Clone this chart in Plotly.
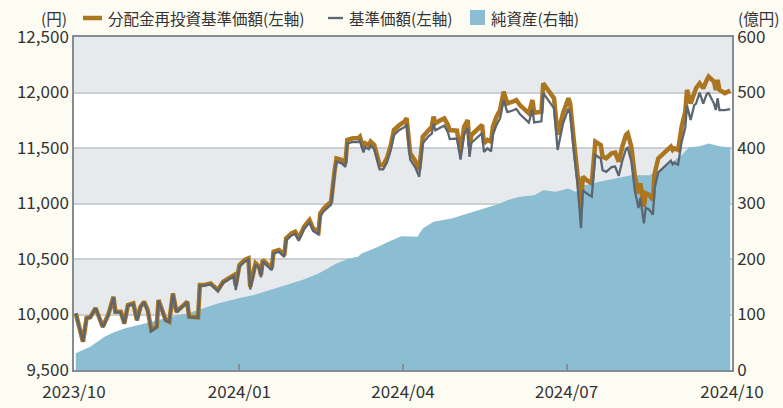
import plotly.graph_objects as go

# ---------------- data ----------------
nav_dates = [
    "2023-10-02", "2023-10-06", "2023-10-08", "2023-10-10", "2023-10-13", "2023-10-17", "2023-10-20",
    "2023-10-23", "2023-10-24", "2023-10-27", "2023-10-29", "2023-10-31", "2023-11-03", "2023-11-05",
    "2023-11-07", "2023-11-09", "2023-11-11", "2023-11-13", "2023-11-16", "2023-11-17", "2023-11-19",
    "2023-11-21", "2023-11-23", "2023-11-25", "2023-11-27", "2023-11-29", "2023-12-01", "2023-12-03",
    "2023-12-04", "2023-12-09", "2023-12-10", "2023-12-12", "2023-12-16", "2023-12-20", "2023-12-23",
    "2023-12-26", "2023-12-29", "2023-12-30", "2024-01-01", "2024-01-04", "2024-01-06", "2024-01-07",
    "2024-01-09", "2024-01-10", "2024-01-12", "2024-01-13", "2024-01-14", "2024-01-17", "2024-01-19",
    "2024-01-20", "2024-01-23", "2024-01-26", "2024-01-27", "2024-01-30", "2024-02-01", "2024-02-03",
    "2024-02-06", "2024-02-09", "2024-02-11", "2024-02-14", "2024-02-15", "2024-02-17", "2024-02-21",
    "2024-02-23", "2024-02-24", "2024-02-27", "2024-02-29", "2024-03-01", "2024-03-04", "2024-03-07",
    "2024-03-08", "2024-03-10", "2024-03-11", "2024-03-13", "2024-03-14", "2024-03-16", "2024-03-19",
    "2024-03-21", "2024-03-23", "2024-03-25", "2024-03-27", "2024-03-30", "2024-04-02", "2024-04-03",
    "2024-04-05", "2024-04-08", "2024-04-10", "2024-04-12", "2024-04-15", "2024-04-17", "2024-04-18",
    "2024-04-19", "2024-04-22", "2024-04-24", "2024-04-26", "2024-04-27", "2024-05-01", "2024-05-03",
    "2024-05-05", "2024-05-07", "2024-05-08", "2024-05-09", "2024-05-12", "2024-05-15", "2024-05-16",
    "2024-05-18", "2024-05-20", "2024-05-21", "2024-05-23", "2024-05-25", "2024-05-27", "2024-05-29",
    "2024-06-01", "2024-06-03", "2024-06-05", "2024-06-08", "2024-06-10", "2024-06-12", "2024-06-13",
    "2024-06-17", "2024-06-18", "2024-06-20", "2024-06-22", "2024-06-24", "2024-06-26", "2024-06-29",
    "2024-07-02", "2024-07-03", "2024-07-05", "2024-07-07", "2024-07-09", "2024-07-10", "2024-07-12",
    "2024-07-15", "2024-07-17", "2024-07-20", "2024-07-21", "2024-07-23", "2024-07-26", "2024-07-28",
    "2024-07-30", "2024-08-01", "2024-08-03", "2024-08-04", "2024-08-06", "2024-08-08", "2024-08-10",
    "2024-08-11", "2024-08-13", "2024-08-14", "2024-08-16", "2024-08-18", "2024-08-19", "2024-08-21",
    "2024-08-24", "2024-08-26", "2024-08-28", "2024-08-29", "2024-08-30", "2024-09-01", "2024-09-03",
    "2024-09-05", "2024-09-06", "2024-09-08", "2024-09-10", "2024-09-11", "2024-09-13", "2024-09-15",
    "2024-09-17", "2024-09-18", "2024-09-21", "2024-09-22", "2024-09-23", "2024-09-24", "2024-09-27",
    "2024-09-30",
]

reinvested_nav = [
    10010, 9755, 9969, 9975, 10058, 9890, 9995,
    10160, 10025, 10025, 9920, 10085, 10100, 9950,
    10070, 10115, 10040, 9860, 9890, 10130, 10040,
    9950, 9935, 10190, 10025, 10060, 10085, 10115,
    9980, 9975, 10265, 10265, 10280, 10220, 10295,
    10325, 10355, 10260, 10445, 10491, 10506, 10250,
    10401, 10461, 10431, 10356, 10491, 10446, 10416,
    10566, 10581, 10536, 10686, 10731, 10746, 10686,
    10791, 10851, 10776, 10746, 10912, 10957, 11016,
    11302, 11407, 11392, 11362, 11572, 11587, 11587,
    11602, 11497, 11542, 11527, 11557, 11527, 11347,
    11347, 11407, 11512, 11662, 11707, 11740, 11770,
    11452, 11377, 11302, 11602, 11662, 11692, 11782,
    11722, 11752, 11767, 11707, 11662, 11656, 11467,
    11692, 11752, 11512, 11617, 11662, 11707, 11542,
    11572, 11557, 11692, 11782, 11842, 12007, 11902,
    11917, 11932, 11887, 11842, 11812, 11932, 11818,
    11827, 12083, 12038, 11993, 11947, 11620, 11812,
    11948, 11902, 11572, 11302, 10972, 11242, 11212,
    11182, 11557, 11527, 11422, 11407, 11452, 11458,
    11377, 11512, 11617, 11632, 11512, 11242, 11092,
    11182, 10971, 11092, 11077, 11032, 11272, 11407,
    11452, 11482, 11512, 11482, 11497, 11482, 11692,
    11827, 12023, 11902, 12007, 12038, 12083, 12038,
    12113, 12143, 12098, 12023, 12113, 12023, 11993,
    12017,
]

base_nav = [
    10010, 9755, 9965, 9972, 10055, 9885, 9990,
    10155, 10020, 10020, 9915, 10080, 10095, 9945,
    10065, 10110, 10035, 9850, 9885, 10125, 10035,
    9945, 9930, 10185, 10020, 10055, 10080, 10110,
    9975, 9970, 10260, 10260, 10272, 10212, 10287,
    10317, 10345, 10220, 10432, 10478, 10493, 10225,
    10388, 10448, 10418, 10335, 10476, 10431, 10400,
    10550, 10564, 10518, 10668, 10712, 10726, 10664,
    10769, 10828, 10752, 10720, 10887, 10931, 10990,
    11274, 11378, 11362, 11330, 11540, 11554, 11553,
    11567, 11461, 11506, 11490, 11520, 11489, 11308,
    11307, 11366, 11470, 11619, 11663, 11690, 11715,
    11396, 11320, 11240, 11543, 11602, 11630, 11716,
    11660, 11688, 11702, 11641, 11580, 11585, 11395,
    11620, 11680, 11420, 11545, 11590, 11634, 11465,
    11497, 11470, 11618, 11708, 11766, 11930, 11823,
    11838, 11852, 11806, 11760, 11728, 11847, 11730,
    11740, 11995, 11950, 11905, 11857, 11482, 11720,
    11855, 11808, 11470, 11190, 10777, 11120, 11092,
    11062, 11437, 11405, 11300, 11285, 11328, 11333,
    11250, 11385, 11490, 11503, 11382, 11110, 10960,
    11050, 10822, 10960, 10944, 10900, 11140, 11280,
    11325, 11355, 11385, 11352, 11367, 11350, 11555,
    11685, 11880, 11752, 11887, 11900, 12000, 11900,
    11990, 11995, 11900, 11842, 11950, 11842, 11842,
    11850,
]

asset_dates = [
    "2023-10-02", "2023-10-10", "2023-10-14", "2023-10-18", "2023-10-22", "2023-10-29", "2023-11-06",
    "2023-11-13", "2023-11-24", "2023-12-03", "2023-12-12", "2023-12-20", "2023-12-31", "2024-01-09",
    "2024-01-18", "2024-01-27", "2024-02-05", "2024-02-14", "2024-02-24", "2024-03-02", "2024-03-07",
    "2024-03-09", "2024-03-16", "2024-03-24", "2024-03-31", "2024-04-09", "2024-04-12", "2024-04-18",
    "2024-04-28", "2024-05-07", "2024-05-16", "2024-05-25", "2024-05-29", "2024-06-05", "2024-06-13",
    "2024-06-18", "2024-06-25", "2024-06-28", "2024-07-02", "2024-07-06", "2024-07-11", "2024-07-19",
    "2024-07-28", "2024-08-06", "2024-08-16", "2024-08-25", "2024-09-03", "2024-09-07", "2024-09-13",
    "2024-09-18", "2024-09-24", "2024-09-30",
]

net_assets = [
    30, 42, 51, 60, 66, 75, 81,
    87, 96, 102, 111, 120, 129, 135,
    144, 153, 162, 174, 192, 201, 204,
    210, 219, 231, 241, 240, 255, 267,
    273, 282, 291, 300, 306, 312, 315,
    324, 321, 324, 327, 321, 333, 339,
    345, 351, 351, 366, 387, 401, 403,
    408, 403, 401,
]

left_ticks = [9500, 10000, 10500, 11000, 11500, 12000, 12500]
right_ticks = [0, 100, 200, 300, 400, 500, 600]
x_tick_vals = ["2023-10-01", "2024-01-01", "2024-04-01", "2024-07-01", "2024-10-01"]
x_tick_text = ["2023/10", "2024/01", "2024/04", "2024/07", "2024/10"]

# ---------------- styling ----------------
FONT = "Noto Sans CJK JP"
ORANGE = "#ac7520"
GRAY = "#5b6670"
AREA = "#8bbdd3"
BAND = "#e7eaed"
GRID = "#cbcfd3"
AXIS = "#858c93"
TXT = "#333333"
PAPER = "#fdfcf3"

W, H = 783, 408
L, R, T, B = 74, 51, 37, 38
PW, PH = W - L - R, H - T - B


def px(x):
    return (x - L) / PW


def py(y):
    return (H - B - y) / PH


fig = go.Figure()

fig.add_trace(go.Scatter(
    x=asset_dates, y=net_assets, yaxis="y", mode="lines",
    line=dict(width=0, color=AREA), fill="tozeroy", fillcolor=AREA,
    name="純資産(右軸)", showlegend=False, hoverinfo="skip",
))
fig.add_trace(go.Scatter(
    x=nav_dates, y=reinvested_nav, yaxis="y2", mode="lines",
    line=dict(width=4.5, color=ORANGE), name="分配金再投資基準価額(左軸)", showlegend=False,
))
fig.add_trace(go.Scatter(
    x=nav_dates, y=base_nav, yaxis="y2", mode="lines",
    line=dict(width=2.3, color=GRAY), name="基準価額(左軸)", showlegend=False,
))

shapes = []
for lo in [10000, 11000, 12000]:
    shapes.append(dict(type="rect", xref="paper", yref="y2", x0=0, x1=1, y0=lo, y1=lo + 500,
                       fillcolor=BAND, line=dict(width=0), layer="below"))

# legend symbols
shapes.append(dict(type="line", xref="paper", yref="paper", x0=px(83), x1=px(102), y0=py(18), y1=py(18),
                   line=dict(color=ORANGE, width=4.5)))
shapes.append(dict(type="line", xref="paper", yref="paper", x0=px(328), x1=px(343), y0=py(18), y1=py(18),
                   line=dict(color=GRAY, width=2.3)))
shapes.append(dict(type="rect", xref="paper", yref="paper", x0=px(470), x1=px(485), y0=py(25), y1=py(10),
                   fillcolor=AREA, line=dict(width=0)))

annotations = []


def ann(text, x, anchor):
    annotations.append(dict(text=text, xref="paper", yref="paper", x=px(x), y=py(18), xanchor=anchor,
                            yanchor="middle", showarrow=False, font=dict(family=FONT, size=15.5, color=TXT)))


ann("(円)", 69, "right")
ann("分配金再投資基準価額(左軸)", 106, "left")
ann("基準価額(左軸)", 347, "left")
ann("純資産(右軸)", 489, "left")
ann("(億円)", 781, "right")

fig.update_layout(
    width=W, height=H,
    margin=dict(l=L, r=R, t=T, b=B, autoexpand=False),
    paper_bgcolor=PAPER, plot_bgcolor="#ffffff",
    font=dict(family=FONT, size=17, color=TXT),
    showlegend=False,
    shapes=shapes, annotations=annotations,
    xaxis=dict(
        type="date", range=["2023-10-01", "2024-10-01"],
        tickvals=x_tick_vals, ticktext=x_tick_text,
        ticks="inside", ticklen=6, tickwidth=1.5, tickcolor=AXIS,
        showline=True, linecolor=AXIS, linewidth=1.5, mirror=True,
        showgrid=False, zeroline=False, automargin=False, ticklabelstandoff=6,
        tickfont=dict(family=FONT, size=17, color=TXT),
    ),
    yaxis=dict(
        side="right", range=[0, 600], tickvals=right_ticks,
        showgrid=False, zeroline=False, ticks="", automargin=False,
        showline=True, linecolor=AXIS, linewidth=1.5,
        tickfont=dict(family=FONT, size=17, color=TXT),
    ),
    yaxis2=dict(
        side="left", overlaying="y", range=[9500, 12500], tickvals=left_ticks,
        tickformat=",d", showgrid=True, gridcolor=GRID, gridwidth=1.5,
        zeroline=False, ticks="", automargin=False,
        showline=True, linecolor=AXIS, linewidth=1.5,
        tickfont=dict(family=FONT, size=17, color=TXT),
    ),
)

fig.write_html(
    "out.html",
    config={"displayModeBar": False},
    post_script="document.body.style.margin='0';document.body.style.background='" + PAPER + "';",
)
